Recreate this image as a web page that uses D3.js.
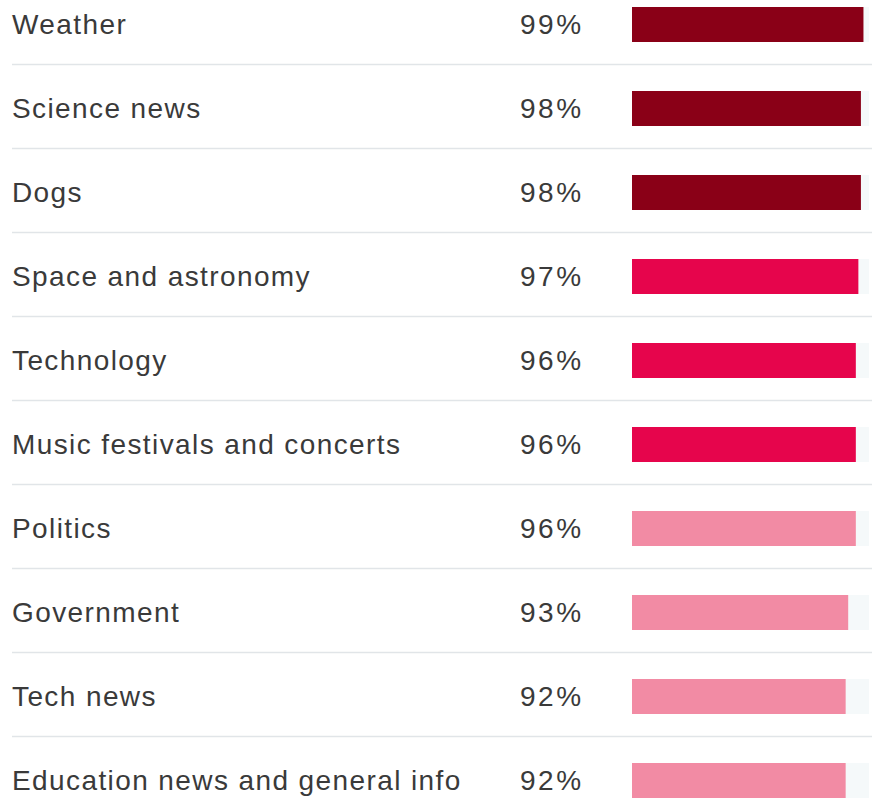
<!DOCTYPE html>
<html>
<head>
<meta charset="utf-8">
<script src="https://cdn.jsdelivr.net/npm/d3@7"></script>
<style>
  html, body { margin: 0; padding: 0; background: #fff; }
  svg { display: block; }
</style>
</head>
<body>
<svg id="chart" width="872" height="798"></svg>
<script>
let topics = ["Weather", "Science news", "Dogs", "Space and astronomy", "Technology",
  "Music festivals and concerts", "Politics", "Government", "Tech news",
  "Education news and general info"];
let shares = [99, 98, 98, 97, 96, 96, 96, 93, 92, 92];
let tiers = ["top", "top", "top", "mid", "mid", "mid", "low", "low", "low", "low"];

let tierColor = { top: "#8a0017", mid: "#e6054c", low: "#f28ba4" };
let textColor = "#3a3a3a";

let svg = d3.select("#chart");

let rowH = 84;
let y = d3.scaleBand()
  .domain(topics)
  .range([-19.5, -19.5 + rowH * topics.length])
  .padding(0);

// bars don't start at zero in the original, the axis is cut
let x = d3.scaleLinear()
  .domain([8, 100])
  .range([632, 866]);

let rows = svg.selectAll(".row")
  .data(topics.map(function(t, i) { return { topic: t, value: shares[i], tier: tiers[i] }; }))
  .enter().append("g")
  .attr("class", "row")
  .attr("transform", function(d) { return "translate(0," + y(d.topic) + ")"; });

// faint track behind bar
rows.append("rect")
  .attr("x", x.range()[0])
  .attr("y", 44 - 17.5)
  .attr("width", 869 - x.range()[0])
  .attr("height", 35)
  .style("fill", "#f5f9fa");

rows.append("rect")
  .attr("x", x.range()[0])
  .attr("y", 44 - 17.5)
  .attr("width", function(d) { return x(d.value) - x.range()[0]; })
  .attr("height", 35)
  .style("fill", function(d) { return tierColor[d.tier]; });

rows.append("text")
  .attr("x", 12)
  .attr("y", 44 + 9)
  .text(function(d) { return d.topic; })
  .style("fill", textColor)
  .style("font-family", "'Liberation Sans', Arial, sans-serif")
  .style("font-size", "28px")
  .style("letter-spacing", "1.4px");

rows.append("text")
  .attr("x", 520)
  .attr("y", 44 + 9)
  .text(function(d) { return d.value + "%"; })
  .style("fill", textColor)
  .style("font-family", "'Liberation Sans', Arial, sans-serif")
  .style("font-size", "28px")
  .style("letter-spacing", "2.5px");

// separators under each row except the last
rows.filter(function(d, i) { return i < topics.length - 1; })
  .append("line")
  .attr("x1", 12)
  .attr("x2", 872)
  .attr("y1", rowH)
  .attr("y2", rowH)
  .style("stroke", "#e1e5e8")
  .style("stroke-width", 1.5);
</script>
</body>
</html>
